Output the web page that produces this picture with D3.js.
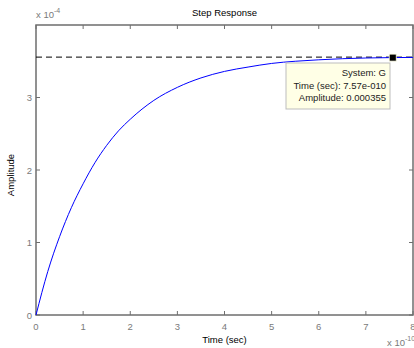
<!DOCTYPE html>
<html><head><meta charset="utf-8">
<script src="https://cdn.jsdelivr.net/npm/d3@7"></script>
<style>body{margin:0;background:#fff}svg{display:block}text{font-family:"Liberation Sans",Arial,sans-serif}</style>
</head><body>
<svg id="c" width="414" height="348"></svg>
<script>
// Step response samples (time in units of 1e-10 s, amplitude in units of 1e-4)
const times = [0,0.25,0.5,0.75,1,1.25,1.5,1.75,2,2.5,3,3.5,4,4.5,5,5.5,6,6.5,7,7.5,8];
const amps  = [0,0.60,1.08,1.48,1.81,2.10,2.34,2.54,2.70,2.96,3.14,3.27,3.36,3.42,3.47,3.50,3.52,3.535,3.545,3.55,3.553];
const finalValue = 3.557;
const xTicks = [0,1,2,3,4,5,6,7,8];
const yTicks = [0,1,2,3];
const marker = {t:7.57, a:3.55, lines:["System: G","Time (sec): 7.57e-010","Amplitude: 0.000355"]};

const svg = d3.select("#c");
const L=36, R=413, T=25, B=315;
const x = d3.scaleLinear().domain([0,8]).range([L,R]);
const y = d3.scaleLinear().domain([0,4]).range([B,T]);
const axisCol="#6e6e6e", lblCol="#7a7a7a";

// box
svg.append("rect").attr("x",L).attr("y",T).attr("width",R-L).attr("height",B-T)
  .attr("fill","#fff").attr("stroke",axisCol).attr("stroke-width",1.5);

// ticks
const g=svg.append("g").attr("stroke",axisCol).attr("stroke-width",1);
xTicks.forEach(t=>{
  g.append("line").attr("x1",x(t)).attr("x2",x(t)).attr("y1",B).attr("y2",B-4);
  g.append("line").attr("x1",x(t)).attr("x2",x(t)).attr("y1",T).attr("y2",T+4);
});
yTicks.forEach(v=>{
  g.append("line").attr("x1",L).attr("x2",L+4).attr("y1",y(v)).attr("y2",y(v));
  g.append("line").attr("x1",R).attr("x2",R-4).attr("y1",y(v)).attr("y2",y(v));
});
xTicks.forEach(t=>{
  svg.append("text").attr("x",x(t)).attr("y",B+15).attr("text-anchor","middle")
    .attr("font-size",9.5).attr("fill",lblCol).text(t);
});
yTicks.forEach(v=>{
  svg.append("text").attr("x",L-4).attr("y",y(v)+3.5).attr("text-anchor","end")
    .attr("font-size",9.5).attr("fill",lblCol).text(v);
});

// final value dashed line
svg.append("line").attr("x1",L).attr("x2",R).attr("y1",y(finalValue)).attr("y2",y(finalValue))
  .attr("stroke","#000").attr("stroke-width",1).attr("stroke-dasharray","6,4");

// curve
const line=d3.line().x((d,i)=>x(times[i])).y(d=>y(d)).curve(d3.curveMonotoneX);
svg.append("path").attr("d",line(amps)).attr("fill","none").attr("stroke","#0000ff").attr("stroke-width",1);

// data tip
const tipR=390, tipL=286, tipT=63, tipB=109;
svg.append("rect").attr("x",tipL).attr("y",tipT).attr("width",tipR-tipL).attr("height",tipB-tipT)
  .attr("fill","#ffffe6").attr("stroke","#bdbdbd").attr("stroke-width",1);
marker.lines.forEach((s,i)=>{
  svg.append("text").attr("x",tipR-4).attr("y",tipT+13+i*12.5).attr("text-anchor","end")
    .attr("font-size",9.5).attr("fill","#222").text(s);
});
svg.append("rect").attr("x",x(marker.t)-3.5).attr("y",y(marker.a)-3.5).attr("width",7).attr("height",7)
  .attr("fill","#000").attr("stroke","#ffffe6").attr("stroke-width",0.8);

// titles
svg.append("text").attr("x",(L+R)/2).attr("y",16).attr("text-anchor","middle").attr("font-size",9.5).attr("fill","#000").text("Step Response");
svg.append("text").attr("x",(L+R)/2).attr("y",343).attr("text-anchor","middle").attr("font-size",9.5).attr("fill","#000").text("Time (sec)");
svg.append("text").attr("transform",`translate(14,${(T+B)/2+5}) rotate(-90)`).attr("text-anchor","middle").attr("font-size",9.5).attr("fill","#000").text("Amplitude");

// exponent labels
const e1=svg.append("text").attr("x",L).attr("y",18).attr("font-size",9.5).attr("fill",lblCol);
e1.append("tspan").text("x 10");
e1.append("tspan").attr("dy",-5).attr("font-size",7).text("-4");
const e2=svg.append("text").attr("x",387).attr("y",346).attr("font-size",9.5).attr("fill",lblCol);
e2.append("tspan").text("x 10");
e2.append("tspan").attr("dy",-5).attr("font-size",7).text("-10");
</script>
</body></html>
